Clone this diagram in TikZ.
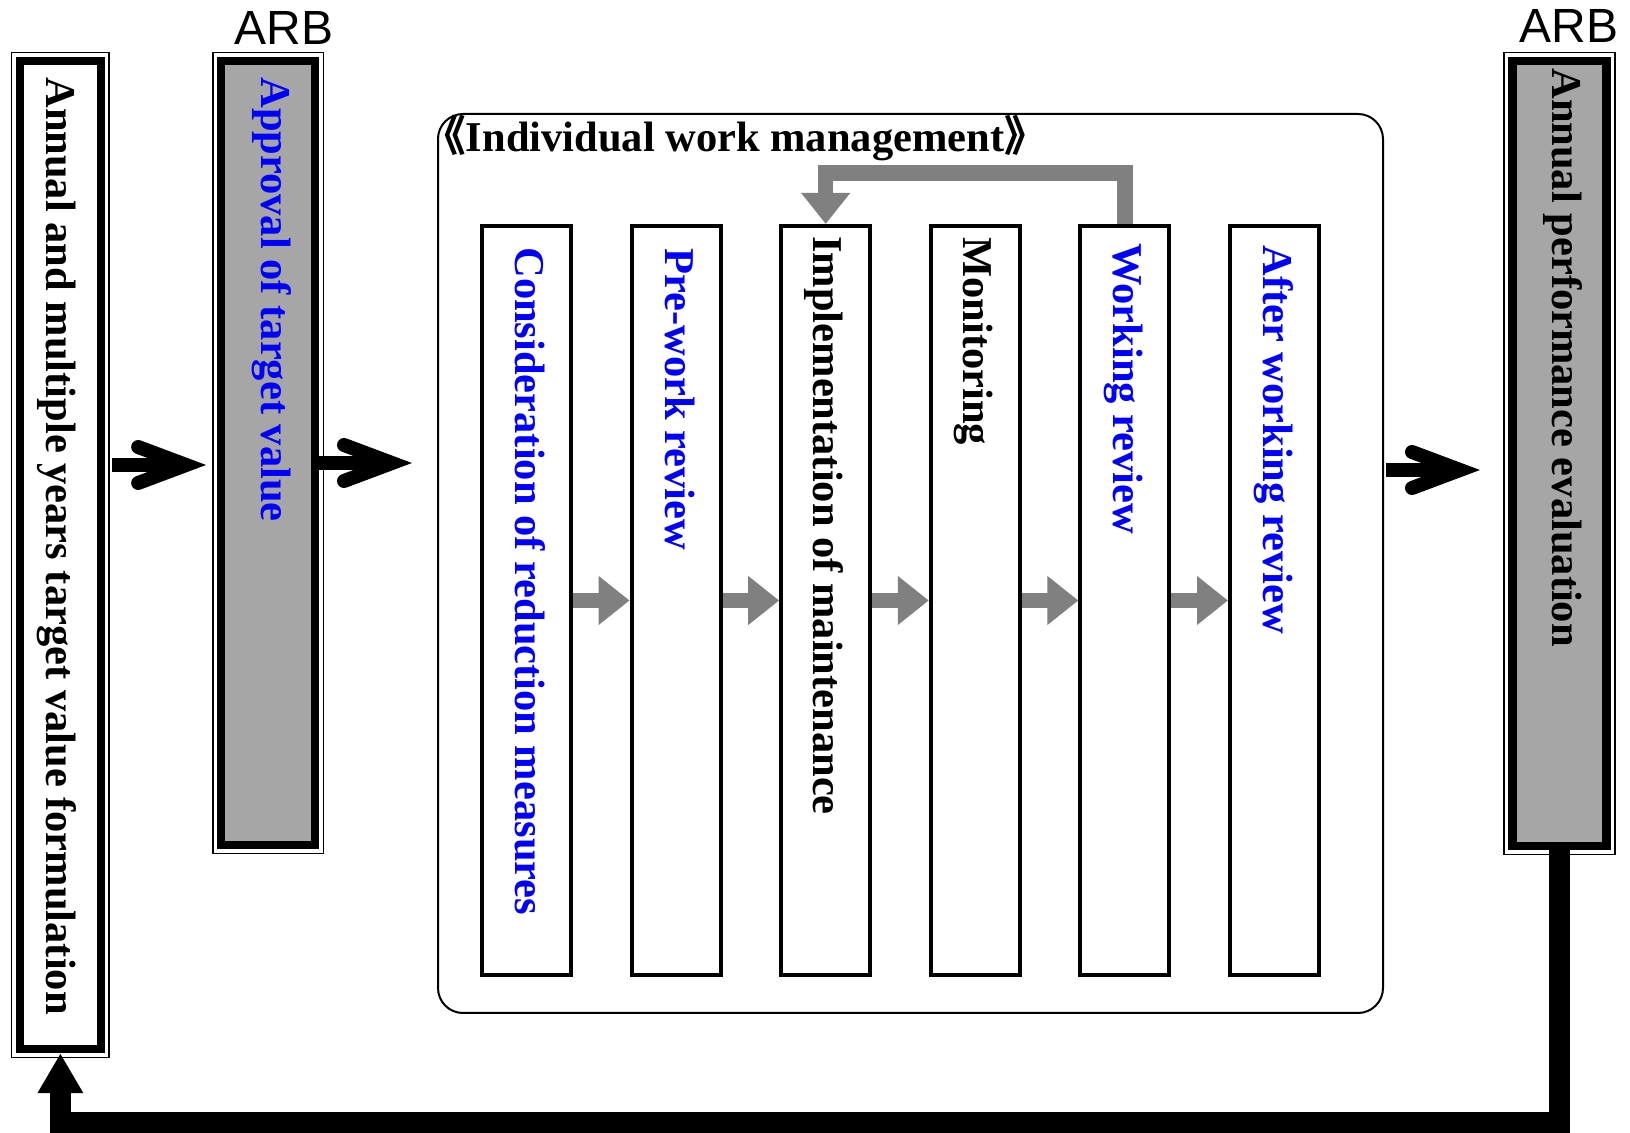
\documentclass[tikz,border=0pt]{standalone}
\usepackage{fontspec}
\setmainfont{Liberation Serif}
\newfontfamily\arbfont{Liberation Sans}
\newfontfamily\cjk{Noto Sans CJK SC}
\usetikzlibrary{arrows.meta, positioning}
\definecolor{boxgray}{HTML}{A6A6A6}
\definecolor{arrowgray}{HTML}{808080}
\tikzset{>=stealth}

\begin{document}
\begin{tikzpicture}[x=0.5pt, y=-0.5pt,
    framebox/.style={rectangle, draw, line width=4.25pt, inner sep=0pt,
      preaction={draw, line width=9.25pt}, preaction={draw=white, line width=7.65pt}},
    stepbox/.style={rectangle, draw, line width=2pt, fill=white, inner sep=0pt,
      minimum width=44.5pt, minimum height=374.5pt},
    vtext/.style={rotate=-90, anchor=west, inner sep=0pt, text height=0.7em, text depth=0pt,
      font=\fontsize{21.25pt}{25pt}\selectfont\bfseries},
    arb/.style={anchor=base, inner sep=0pt, font=\arbfont\fontsize{24pt}{28pt}\selectfont},
    bigline/.style={line width=7pt},
    barb/.style={line width=7pt, line cap=round, line join=miter},
    grayarrow/.style={draw=arrowgray, line width=7.75pt, -{Triangle[length=15.5pt, width=23.5pt]}},
    backarrow/.style={line width=10.5pt, -{Triangle[length=20pt, width=21.5pt]}}]
  \useasboundingbox (0,0) rectangle (1630,1133);

  % ARB side
  \node[framebox, fill=white, minimum width=40.35pt, minimum height=494pt] (fm) at (60.4,555) {};
  \node[framebox, fill=boxgray, minimum width=46.85pt, minimum height=392pt] (ap) at (268,453) {};
  \node[framebox, fill=boxgray, minimum width=47.1pt, minimum height=392.5pt] (pe) at (1559.6,453.5) {};
  \node[arb] (arb1) at (284,45) {ARB};
  \node[arb] (arb2) at (1569,43) {ARB};
  \node[vtext] (fmtext) at (54,77) {Annual and multiple years target value formulation};
  \node[vtext, blue] (aptext) at (268.5,77) {Approval of target value};
  \node[vtext] (petext) at (1559,68) {Annual performance evaluation};

  % individual work management
  \node[draw, line width=1pt, rounded corners=12.5pt, inner sep=0pt,
    minimum width=472.5pt, minimum height=449.5pt] (iwm) at (910.5,563.5) {};
  \node[anchor=base west, inner sep=0pt, font=\fontsize{21.25pt}{25pt}\selectfont\bfseries]
    (title) at (423,152) {{\cjk 《}Individual work management{\cjk 》}};

  \node[stepbox] (b1) at (526.5,600.5) {};
  \node[stepbox, right=28.3pt of b1] (b2) {};
  \node[stepbox, right=28.3pt of b2] (b3) {};
  \node[stepbox, right=28.3pt of b3] (b4) {};
  \node[stepbox, right=28.3pt of b4] (b5) {};
  \node[stepbox, right=28.3pt of b5] (b6) {};
  \node[vtext, blue] (t1) at (522.5,247) {Consideration of reduction measures};
  \node[vtext, blue] (t2) at (672.5,248) {Pre-work review};
  \node[vtext] (t3) at (820.5,236) {Implementation of maintenance};
  \node[vtext] (t4) at (970.5,237) {Monitoring};
  \node[vtext, blue] (t5) at (1120.5,243) {Working review};
  \node[vtext, blue] (t6) at (1270.5,245) {After working review};

  \foreach \i/\j in {1/2,2/3,3/4,4/5,5/6}
    \draw[grayarrow] (b\i.east) -- (b\j.west);
  \draw[grayarrow] (b5.north) -- ++(0,-51) -| (b3.north);

  % black arrows, heads drawn as two arms
  \draw[bigline, shorten <=3.5pt, shorten >=15.4pt] (fm.east |- 0,465) -- (ap.west |- 0,465);
  \draw[barb] (ap.west |- 0,465) ++(-78.75,-18) -- ++(48,18) -- ++(-48,18);
  \draw[bigline, shorten >=22.5pt] (ap.east |- 0,463) -- (iwm.west |- 0,463);
  \draw[barb] (iwm.west |- 0,463) ++(-93,-18) -- ++(48,18) -- ++(-48,18);
  \draw[bigline, shorten <=1pt, shorten >=24.1pt] (iwm.east |- 0,470) -- (pe.west |- 0,470);
  \draw[barb] (pe.west |- 0,470) ++(-96.25,-18) -- ++(48,18) -- ++(-48,18);

  \draw[backarrow] (pe.south) -- (pe.south |- 0,1122.5) -| (fm.south);
\end{tikzpicture}
\end{document}
